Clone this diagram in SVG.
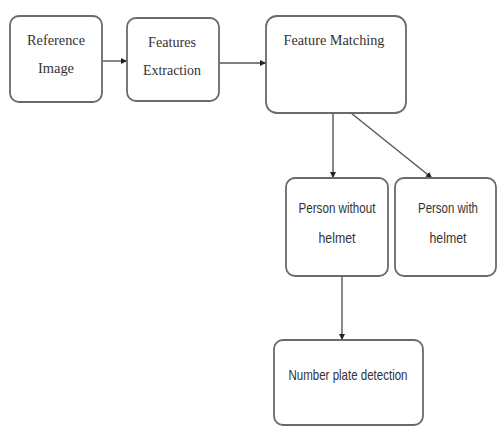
<svg xmlns="http://www.w3.org/2000/svg" width="497" height="426" viewBox="0 0 497 426">
<style>
.box{fill:#fff;stroke:#6a6a6a;stroke-width:1.8}
.serif{font-family:"Liberation Serif","Times New Roman",serif;font-size:15px;fill:#333;text-anchor:middle}
.sans{font-family:"Liberation Sans",Arial,sans-serif;font-size:14.5px;fill:#333;text-anchor:middle}
.conn{stroke:#555;stroke-width:1.4;fill:none;marker-end:url(#ah)}
</style>
<defs>
<marker id="ah" viewBox="0 0 10 10" refX="10" refY="5" markerWidth="6" markerHeight="6" markerUnits="userSpaceOnUse" orient="auto">
<path d="M0,0 L10,5 L0,10 z" fill="#222"/>
</marker>
</defs>
<rect width="497" height="426" fill="#fff"/>
<g id="connectors">
<line class="conn" x1="102" y1="61" x2="127" y2="61"/>
<line class="conn" x1="219" y1="63" x2="266" y2="63"/>
<line class="conn" x1="333" y1="113" x2="333" y2="178"/>
<line class="conn" x1="351" y1="113" x2="432" y2="178"/>
<line class="conn" x1="342" y1="276" x2="342" y2="340"/>
</g>
<g id="node-reference-image">
<rect class="box" x="10" y="16" width="92" height="86" rx="9"/>
<text class="serif" x="56" y="45" textLength="58" lengthAdjust="spacingAndGlyphs">Reference</text>
<text class="serif" x="56" y="73" textLength="36" lengthAdjust="spacingAndGlyphs">Image</text>
</g>
<g id="node-features-extraction">
<rect class="box" x="127" y="18" width="92" height="83" rx="9"/>
<text class="serif" x="172" y="47" textLength="48" lengthAdjust="spacingAndGlyphs">Features</text>
<text class="serif" x="172" y="75" textLength="58" lengthAdjust="spacingAndGlyphs">Extraction</text>
</g>
<g id="node-feature-matching">
<rect class="box" x="266" y="16" width="140" height="97" rx="11"/>
<text class="serif" x="334" y="45" textLength="101" lengthAdjust="spacingAndGlyphs">Feature Matching</text>
</g>
<g id="node-person-without-helmet">
<rect class="box" x="286" y="178" width="102" height="98" rx="9"/>
<text class="sans" x="337" y="213" textLength="77" lengthAdjust="spacingAndGlyphs">Person without</text>
<text class="sans" x="337" y="243" textLength="37" lengthAdjust="spacingAndGlyphs">helmet</text>
</g>
<g id="node-person-with-helmet">
<rect class="box" x="395" y="178" width="101" height="98" rx="9"/>
<text class="sans" x="448" y="213" textLength="60" lengthAdjust="spacingAndGlyphs">Person with</text>
<text class="sans" x="448" y="243" textLength="37" lengthAdjust="spacingAndGlyphs">helmet</text>
</g>
<g id="node-number-plate-detection">
<rect class="box" x="274" y="340" width="149" height="85" rx="9"/>
<text class="sans" x="348" y="380" textLength="119" lengthAdjust="spacingAndGlyphs">Number plate detection</text>
</g>
</svg>
